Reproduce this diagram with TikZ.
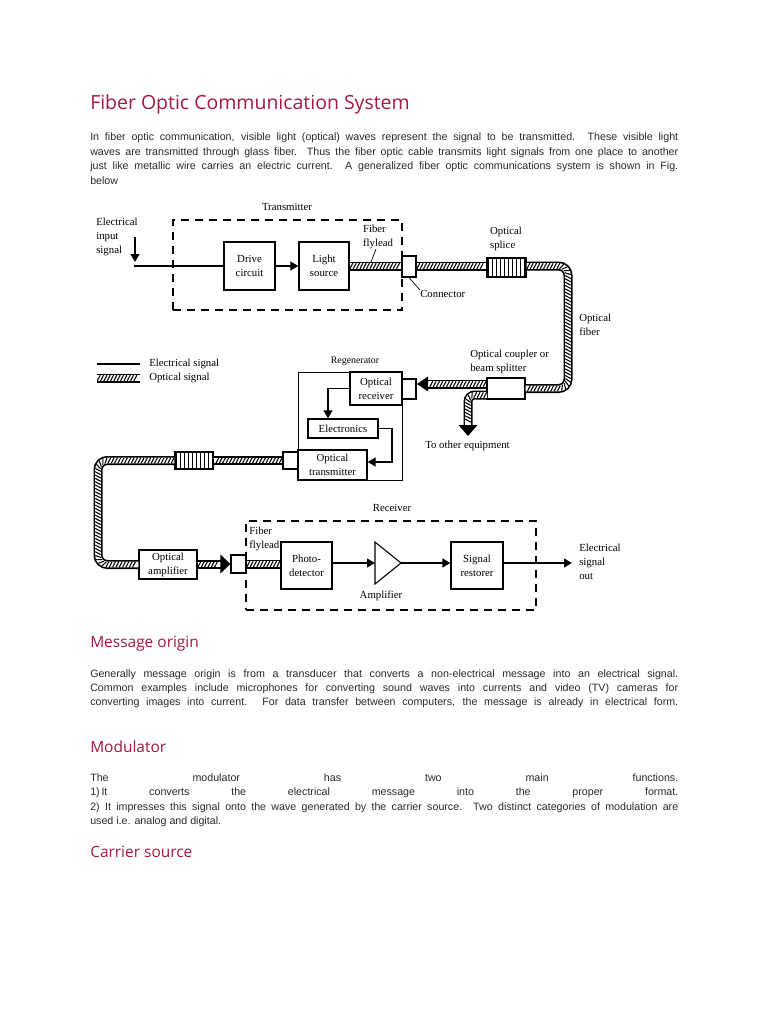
\documentclass[tikz,border=0pt]{standalone}
\usepackage{fontspec}
\setmainfont{Liberation Serif}
\newfontfamily\bodyfont{Liberation Sans}
\newfontfamily\headfont{Open Sans}
\usetikzlibrary{arrows.meta,decorations.markings,patterns,fit}
\definecolor{headred}{HTML}{A3193F}
\definecolor{bodygray}{HTML}{2A2A2A}
\newcommand\lblfont{\fontsize{8.1}{10.5}\selectfont}
\newcommand\bodyline[3]{\node[body] (#1) at (90,#2) {\makebox[441pt][s]{#3}};}
\newcommand\lastline[3]{\node[body] (#1) at (90,#2) {#3};}
\begin{document}
\begin{tikzpicture}[x=0.75pt,y=-0.75pt,
  box/.style={draw, line width=0.9pt, inner sep=0pt, align=center, font=\lblfont},
  sz/.style 2 args={minimum width=#1*0.75pt, minimum height=#2*0.75pt},
  dashbox/.style={draw, line width=0.9pt, dash pattern=on 6pt off 4.5pt, inner sep=0pt},
  txt/.style={font=\lblfont, inner sep=0pt, align=left},
  elec/.style={line width=1.9pt},
  elecin/.style={line width=1.4pt},
  etip/.style={-{Triangle[length=6pt,width=6.5pt]}},
  fiber/.style={
    preaction={draw, black, line width=6.75pt},
    preaction={draw, white, line width=4.3pt},
    postaction={decorate, decoration={markings,
      mark=between positions 1.3pt and -1.3pt step 2.5pt with
      {\draw[line width=0.8pt] (-1.1pt,-2.1pt) -- (1.1pt,2.1pt);}}}},
  body/.style={font=\bodyfont\fontsize{8}{10}\selectfont, text=bodygray, inner sep=0pt, anchor=base west},
  head/.style={font=\headfont\fontsize{11.6}{13}\selectfont, text=headred, inner sep=0pt, anchor=base west},
  title/.style={font=\headfont\fontsize{14.6}{16}\selectfont, text=headred, inner sep=0pt, anchor=base west},
  leader/.style={line width=0.5pt}
]
\fill[white] (0,0) rectangle (768,1024);
\useasboundingbox (0,0) rectangle (768,1024);

% ---------- text ----------
\node[title] (ttl) at (90,109.5) {Fiber Optic Communication System};
\bodyline{pa1}{140.5}{In fiber optic communication, visible light (optical) waves represent the signal to be transmitted. These visible light}
\bodyline{pa2}{155}{waves are transmitted through glass fiber. Thus the fiber optic cable transmits light signals from one place to another}
\bodyline{pa3}{169.5}{just like metallic wire carries an electric current. A generalized fiber optic communications system is shown in Fig.}
\lastline{pa4}{184}{below}

\node[head] (h1) at (90,647.5) {Message origin};
\bodyline{pb1}{677}{Generally message origin is from a transducer that converts a non-electrical message into an electrical signal.}
\bodyline{pb2}{691}{Common examples include microphones for converting sound waves into currents and video (TV) cameras for}
\bodyline{pb3}{705}{converting images into current. For data transfer between computers, the message is already in electrical form.}

\node[head] (h2) at (90,752) {Modulator};
\bodyline{pc1}{781.5}{The modulator has two main functions.}
\bodyline{pc2}{795.8}{1)\,It converts the electrical message into the proper format.}
\bodyline{pc3}{810}{2) It impresses this signal onto the wave generated by the carrier source. Two distinct categories of modulation are}
\lastline{pc4}{824.3}{used i.e. analog and digital.}

\node[head] (h3) at (90,857) {Carrier source};

% ---------- transmitter ----------
\node[dashbox, fit={(173,220) (402,310)}] (txbox) {};
\node[txt] (txlabel) at (287,207) {Transmitter};
\node[txt, anchor=west] (inlabel) at (96,237) {Electrical\\input\\signal};
\node[box, sz={51}{48}] (drive) at (249.5,266) {Drive\\circuit};
\node[box, sz={50}{48}] (light) at (324,266) {Light\\source};
\coordinate (inA) at (135,237);
\coordinate (inB) at (135,262);
\coordinate (inC) at (134,266);
\draw[elec, etip] (inA) -- (inB);
\draw[elec] (inC) -- (drive.west);
\draw[elec, etip] (drive.east) -- (light.west);
\node[box, sz={14}{21}] (conn1) at (409,266.5) {};
\path[fiber] (light.east) -- (conn1.west |- light.east);
\node[txt] (flylabel) at (378,237) {Fiber\\flylead};
\coordinate (flytick) at (371,262);
\draw[leader] (flylabel.south) ++(-2,0) -- (flytick);
\node[box, sz={39}{19}, pattern=vertical lines] (splice1) at (506.5,267.5) {};
\path[fiber] (conn1.east |- light.east) -- (splice1.west |- light.east);
\node[txt] (splicelabel) at (506,239) {Optical\\splice};
\node[txt, anchor=west] (connlabel) at (420,294) {Connector};
\draw[leader] (conn1.south) -- (connlabel.north west);

% ---------- long fiber and coupler ----------
\node[box, sz={38}{21}] (coupler) at (506,388.5) {};
\coordinate (fibR) at (568,320);
\path[fiber, rounded corners=7pt] (splice1.east |- light.east) -| (fibR) |- (coupler.east);
\node[txt, anchor=west] (fiberlabel) at (579,324.5) {Optical\\fiber};
\node[txt, anchor=west] (couplerlabel) at (470,361.5) {Optical coupler or\\beam splitter};

% ---------- regenerator ----------
\node[draw, line width=0.7pt, inner sep=0pt, fit={(298,372) (402,480)}] (regen) {};
\node[txt, font=\fontsize{7.4}{9}\selectfont] (regenlabel) at (355,361) {Regenerator};
\node[box, sz={52}{33}] (orx) at (376,388.5) {Optical\\receiver};
\node[box, sz={14}{20}] (conn2) at (409,389) {};
\coordinate (rxtip) at (417,384);
\coordinate (rxbase) at (428,384);
\path[fiber] (coupler.west |- rxtip) -- (rxbase);
\fill (rxtip) -- ++(11,-7.5) -- ++(0,15) -- cycle;
\coordinate (brstart) at (487,395);
\coordinate (brbase) at (468,425);
\coordinate (brtip) at (468,436);
\path[fiber, rounded corners=5pt] (brstart) -| (brbase);
\fill (brtip) -- ++(-9.5,-11) -- ++(19,0) -- cycle;
\node[txt, anchor=west] (otherlabel) at (425,446) {To other equipment};

\node[box, sz={70}{19}] (elx) at (343,428.5) {Electronics};
\node[box, sz={69}{30}] (otx) at (332.5,465) {Optical\\transmitter};
\coordinate (e1) at (328,389);
\coordinate (e2) at (392,462);
\draw[elecin, etip] (orx.west) -| (elx.north -| e1);
\draw[elecin, etip] (elx.east) -| (e2) -- (otx.east |- e2);

\node[box, sz={15}{17}] (conn3) at (290.5,460.5) {};
\node[box, sz={38}{17}, pattern=vertical lines] (splice2) at (194,460.5) {};
\path[fiber] (conn3.west) -- (splice2.east);
\coordinate (fibL) at (98,510);
\node[box, sz={58}{29}] (oamp) at (168,564.5) {Optical\\amplifier};
\path[fiber, rounded corners=7pt] (splice2.west) -| (fibL) |- (oamp.west);

% ---------- legend ----------
\coordinate (lg1a) at (97,364);
\coordinate (lg1b) at (140,364);
\coordinate (lg2a) at (97,378);
\coordinate (lg2b) at (140,378);
\draw[elec] (lg1a) -- (lg1b);
\path[fiber] (lg2a) -- (lg2b);
\node[txt, anchor=west] (lgt1) at (149,364) {Electrical signal};
\node[txt, anchor=west] (lgt2) at (149,378) {Optical signal};

% ---------- receiver ----------
\node[box, sz={15}{18}] (conn4) at (238.5,564) {};
\coordinate (c4base) at (221,564.5);
\path[fiber] (oamp.east) -- (c4base);
\fill (conn4.west) -- ++(-10,-9.5) -- ++(0,19) -- cycle;
\node[dashbox, fit={(246,521) (536,610)}] (rxbox) {};
\node[txt] (rxlabel) at (392,508) {Receiver};
\node[txt, anchor=west] (fly2) at (249,538.5) {Fiber\\flylead};
\node[box, sz={51}{47}] (pd) at (306.5,565.5) {Photo-\\detector};
\path[fiber] (conn4.east) -- (pd.west |- conn4.east);
\coordinate (ampin) at (375,563);
\coordinate (ampout) at (401,563);
\draw[line width=0.8pt] (375,542) -- (ampout) -- (375,584) -- cycle;
\draw[elec, etip] (pd.east |- ampin) -- (ampin);
\node[txt] (amplabel) at (381,596) {Amplifier};
\node[box, sz={52}{47}] (restorer) at (477,565.5) {Signal\\restorer};
\draw[elec, etip] (ampout) -- (restorer.west |- ampout);
\coordinate (outtip) at (572,563);
\draw[elec, etip] (restorer.east |- outtip) -- (outtip);
\node[txt, anchor=west] (outlabel) at (579,562) {Electrical\\signal\\out};
\end{tikzpicture}
\end{document}
